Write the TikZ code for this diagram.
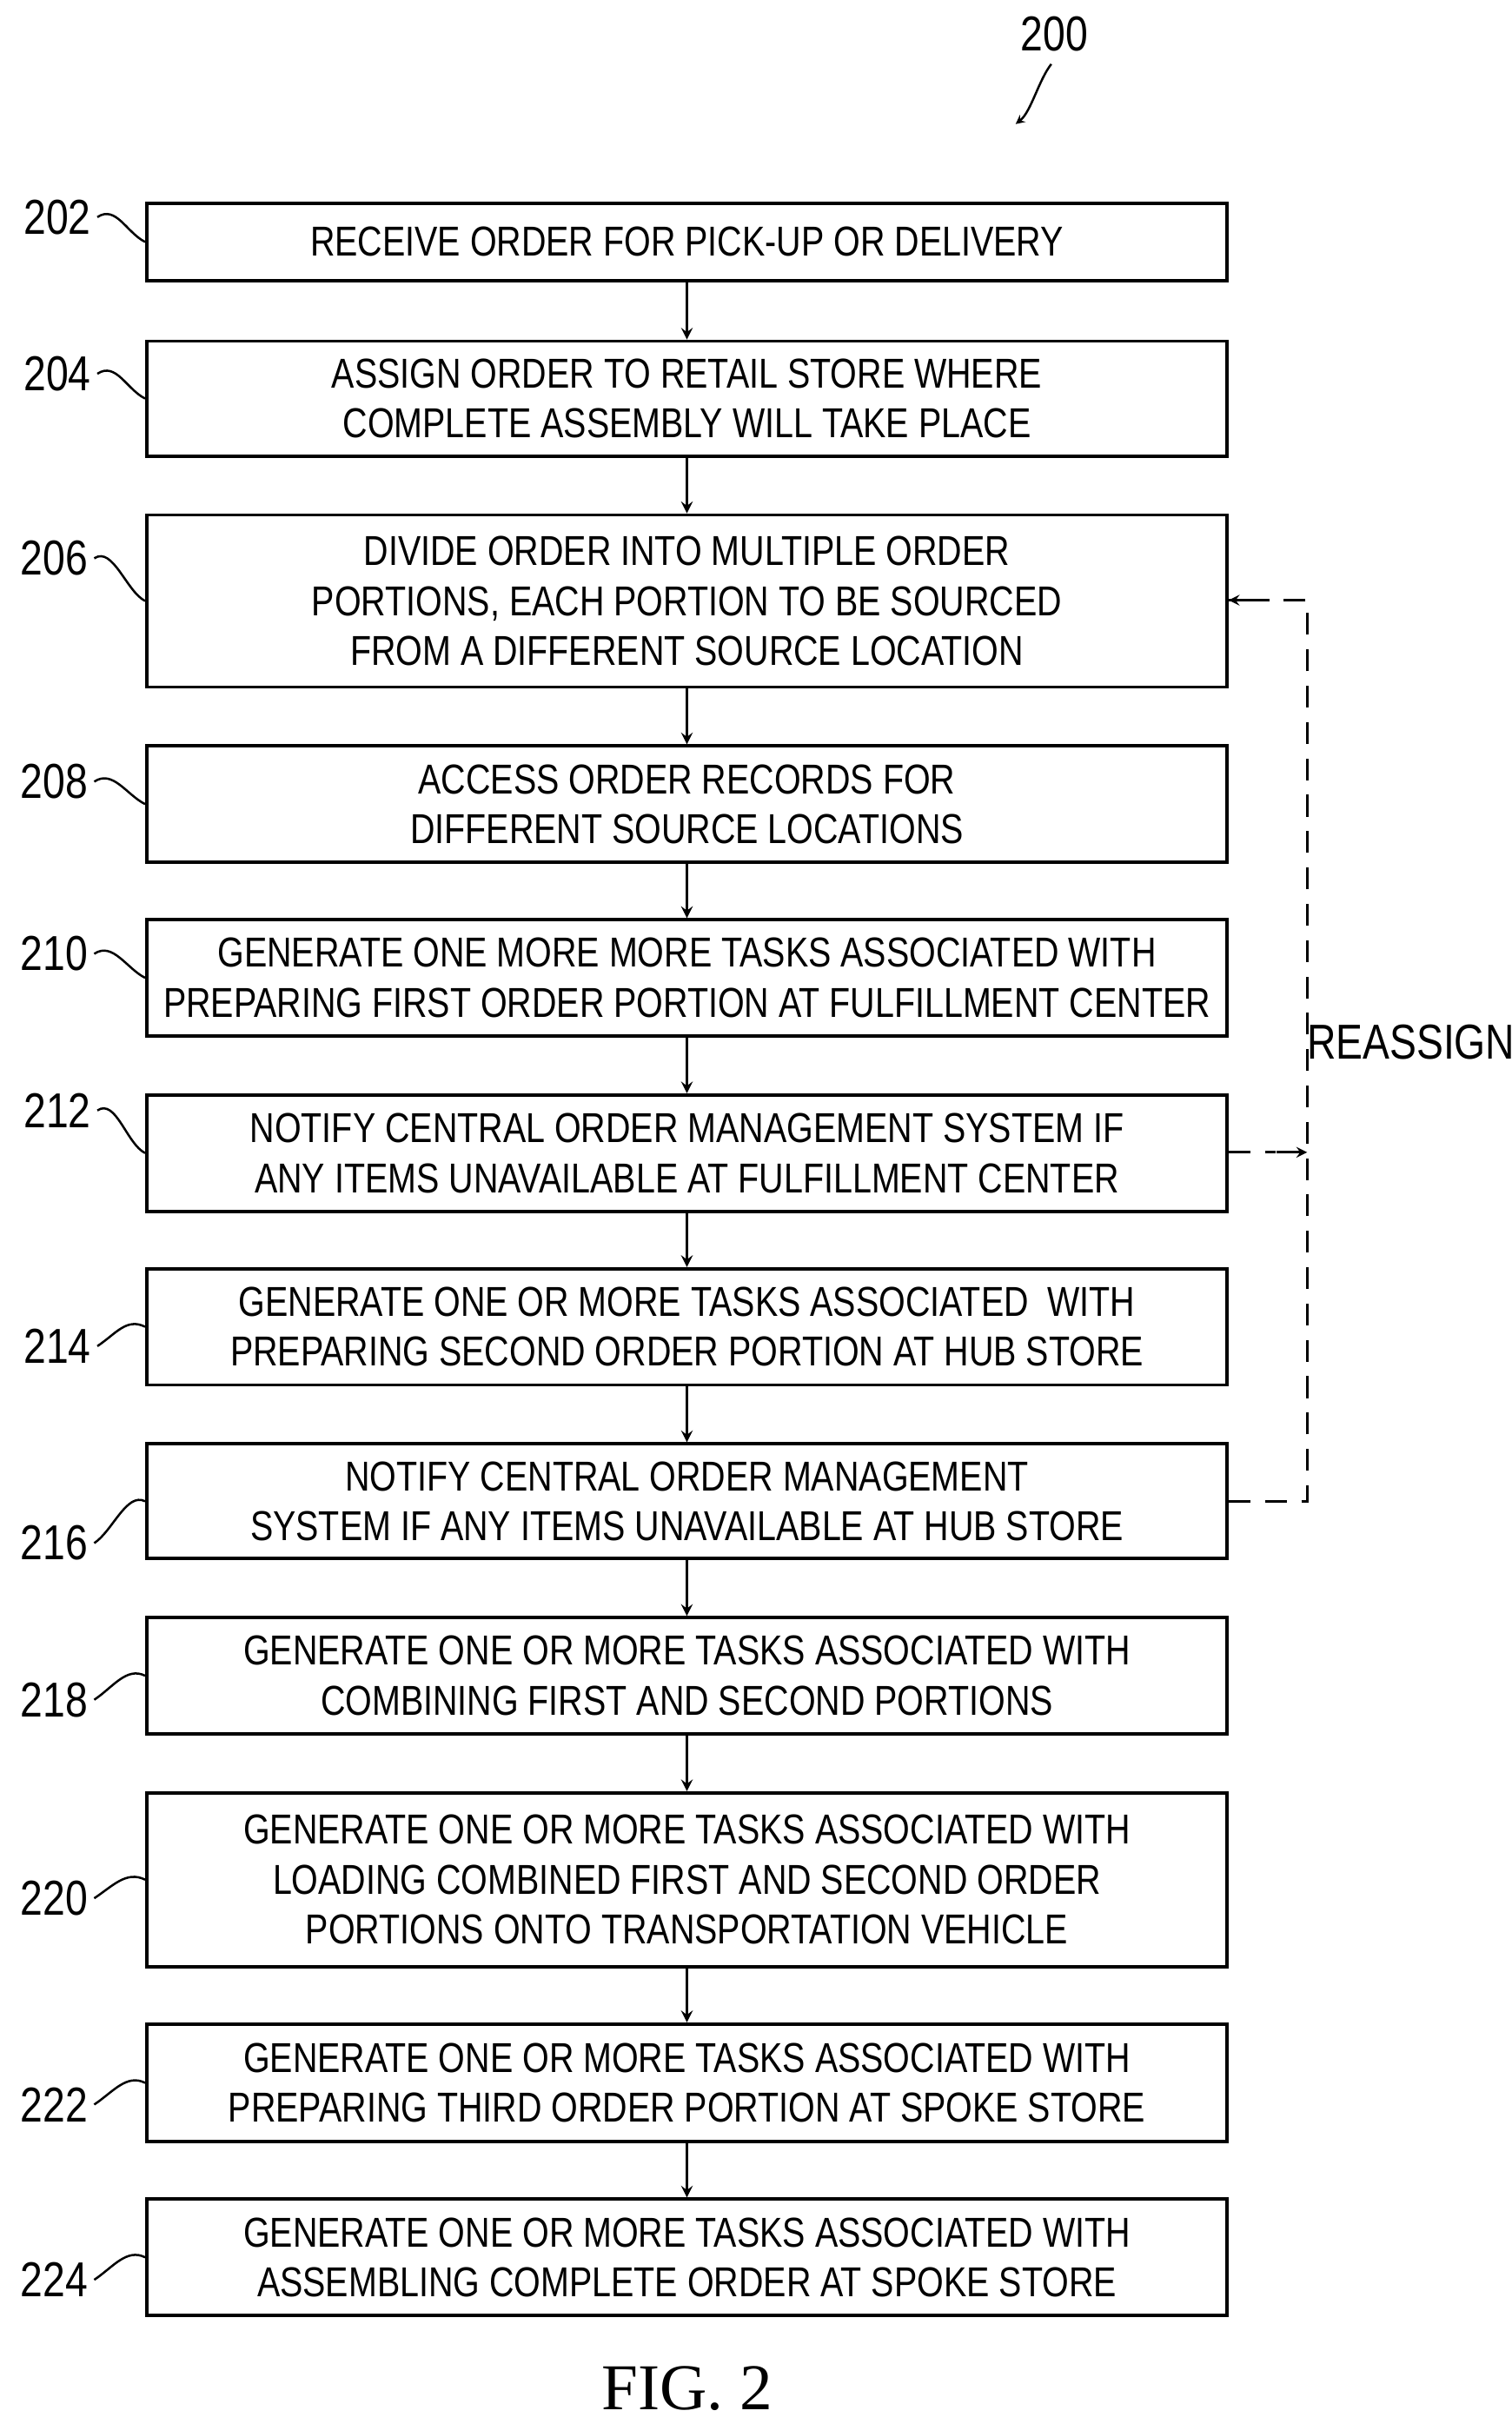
\documentclass[tikz,border=0pt]{standalone}
\usepackage{fontspec}
\setmainfont{Liberation Sans}[FakeStretch=0.82]
\newfontfamily\figfont{Liberation Serif}
\usetikzlibrary{positioning}
\tikzset{
    step box/.style={
        rectangle,
        draw=black,
        line width=1.8pt,
        minimum width=20.9cm,
        inner sep=0pt,
        align=center,
        font=\fontsize{23}{27.5}\selectfont
    },
    step label/.style={font=\fontsize{27}{30}\selectfont, anchor=center},
    flow arrow/.style={-stealth, line width=1.8pt},
    reassign line/.style={dashed, dash pattern=on 12pt off 8pt, line width=1.6pt}
}
\begin{document}
\begin{tikzpicture}[x=0.03cm,y=-0.03cm]
\useasboundingbox (0,0) rectangle (975,1563);

% steps: name/top/bottom/text
\foreach \n/\t/\b/\txt in {
    202/131/181/{RECEIVE ORDER FOR PICK-UP OR DELIVERY},
    204/220/294/{ASSIGN ORDER TO RETAIL STORE WHERE\\COMPLETE ASSEMBLY WILL TAKE PLACE},
    206/332/443/{DIVIDE ORDER INTO MULTIPLE ORDER\\PORTIONS, EACH PORTION TO BE SOURCED\\FROM A DIFFERENT SOURCE LOCATION},
    208/481/556/{ACCESS ORDER RECORDS FOR\\DIFFERENT SOURCE LOCATIONS},
    210/593/668/{GENERATE ONE MORE MORE TASKS ASSOCIATED WITH\\PREPARING FIRST ORDER PORTION AT FULFILLMENT CENTER},
    212/706/781/{NOTIFY CENTRAL ORDER MANAGEMENT SYSTEM IF\\ANY ITEMS UNAVAILABLE AT FULFILLMENT CENTER},
    214/818/893/{GENERATE ONE OR MORE TASKS ASSOCIATED\ \ WITH\\PREPARING SECOND ORDER PORTION AT HUB STORE},
    216/931/1005/{NOTIFY CENTRAL ORDER MANAGEMENT\\SYSTEM IF ANY ITEMS UNAVAILABLE AT HUB STORE},
    218/1043/1118/{GENERATE ONE OR MORE TASKS ASSOCIATED WITH\\COMBINING FIRST AND SECOND PORTIONS},
    220/1156/1268/{GENERATE ONE OR MORE TASKS ASSOCIATED WITH\\LOADING COMBINED FIRST AND SECOND ORDER\\PORTIONS ONTO TRANSPORTATION VEHICLE},
    222/1305/1381/{GENERATE ONE OR MORE TASKS ASSOCIATED WITH\\PREPARING THIRD ORDER PORTION AT SPOKE STORE},
    224/1418/1493/{GENERATE ONE OR MORE TASKS ASSOCIATED WITH\\ASSEMBLING COMPLETE ORDER AT SPOKE STORE}}
{
    \node[step box, minimum height={(\b-\t)*0.03cm}] (s\n) at (443,{(\t+\b)/2}) {\txt};
}

% reference numerals
\foreach \n/\lx/\ly in {202/37/140, 204/37/241, 206/35/360, 208/35/504, 210/35/615,
    212/37/716, 214/37/868, 216/35/995, 218/35/1096, 220/35/1224, 222/35/1357, 224/35/1470}
{
    \node[step label] (l\n) at (\lx,\ly) {\n};
    \draw[line width=1.2pt] (l\n.east) .. controls ++(12,-8) and ++(-12,-6) .. (s\n.west);
}

% flow arrows
\foreach \a/\b in {202/204, 204/206, 206/208, 208/210, 210/212, 212/214,
    214/216, 216/218, 218/220, 220/222, 222/224}
{
    \draw[flow arrow] (s\a) -- (s\b);
}

% reassign loop
\coordinate (r1) at (843,387);
\coordinate (r2) at (843,968);
\coordinate (r3) at (843,743);
\draw[reassign line] (s216.east |- r2) -- (r2) -- (r1) -- (s206.east |- r1);
\draw[-stealth, line width=1.6pt] (s206.east |- r1) ++(18,0) -- (s206.east |- r1);
\draw[reassign line] (s212.east |- r3) -- ++(30,0);
\draw[-stealth, line width=1.6pt] (823,743) -- (r3);
\node[step label] (reassign) at (910,672) {REASSIGN};

% figure number
\node[step label] (num) at (680,22) {200};
\coordinate (numtip) at (655,80);
\draw[-stealth, line width=1.2pt] (num.south) ++(-2,4) .. controls ++(-8,10) and ++(10,-8) .. (numtip);
\node[font=\figfont\fontsize{36}{40}\selectfont] (fig) at (443,1540) {FIG. 2};
\end{tikzpicture}
\end{document}
